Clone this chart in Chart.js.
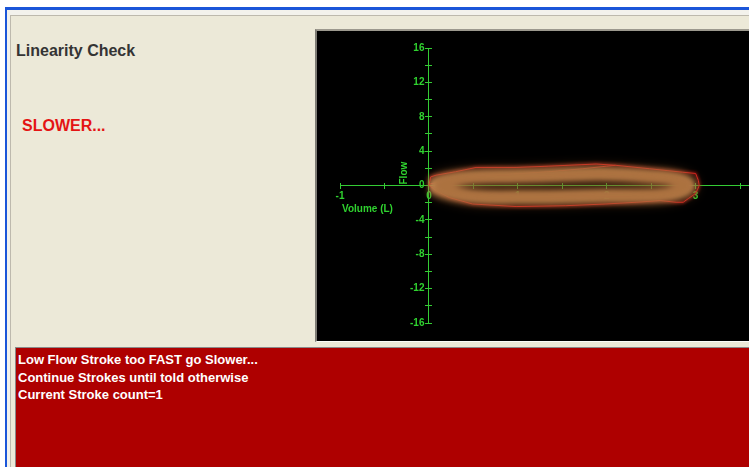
<!DOCTYPE html>
<html>
<head>
<meta charset="utf-8">
<script src="https://cdn.jsdelivr.net/npm/chart.js@4"></script>
<style>
  html, body { margin: 0; padding: 0; }
  body { width: 749px; height: 467px; overflow: hidden; background: #ffffff; position: relative;
         font-family: 'Liberation Sans', Arial, sans-serif; }
  .frame { position: absolute; left: 5px; top: 7px; right: 0; bottom: 0;
           border-top: 3px solid #1b56d9; border-left: 2px solid #1b56d9; background: #f3f2ec; }
  .panel { position: absolute; left: 10px; top: 15px; right: 0; bottom: 0;
           border-top: 1px solid #bdb9ad; border-left: 1px solid #bdb9ad; background: #ece9d8; }
  .title { position: absolute; left: 16px; top: 41px; font-size: 16px; font-weight: bold; color: #343434;
           line-height: 20px; white-space: nowrap; }
  .slower { position: absolute; left: 22px; top: 116px; font-size: 16px; font-weight: bold; color: #e41414;
            line-height: 20px; white-space: nowrap; }
  .chartbox { position: absolute; left: 315px; top: 29px; width: 434px; height: 310px;
              border-top: 2px solid #9c998e; border-left: 2px solid #7d7b74; border-bottom: 1px solid #fbfbf8;
              background: #000; }
  .chartbox canvas { display: block; position: absolute; left: 0; top: 0; }
  .msg { position: absolute; left: 15px; top: 347px; right: 0; bottom: 0;
         border-top: 1px solid #8a8a8a; border-left: 1px solid #8a8a8a; background: #ae0000;
         color: #ffffff; font-size: 13px; font-weight: bold; line-height: 17.5px; padding: 3px 0 0 2px; }
</style>
</head>
<body>
<div class="frame"></div>
<div class="panel"></div>
<div class="title">Linearity Check</div>
<div class="slower">SLOWER...</div>
<div class="chartbox"><canvas id="c" width="432" height="310"></canvas></div>
<div class="msg">Low Flow Stroke too FAST go Slower...<br>Continue Strokes until told otherwise<br>Current Stroke count=1</div>
<script>
// ---- data ----
const outerVolume = [0, 0.02, 0.08, 0.30, 0.53, 0.98, 1.35, 1.88, 2.10, 2.48, 2.85, 3.00, 3.03, 3.04, 3.02, 2.99, 2.92, 2.86, 2.78, 2.60, 2.33, 1.99, 1.54, 0.98, 0.49, 0.23, 0.08, 0.02, 0];
const outerFlow   = [0, 1.0, 1.2, 1.6, 2.1, 2.1, 2.25, 2.5, 2.35, 1.95, 1.55, 1.4, 0.6, 0, -0.5, -1.0, -1.5, -1.95, -1.95, -1.75, -1.95, -2.15, -2.35, -2.45, -2.15, -1.4, -0.6, -0.1, 0];
const innerVolume = [0, 0.02, 0.23, 0.49, 0.98, 1.35, 1.73, 2.0, 2.1];
const innerFlow   = [0, 0.2, 0.6, 1.05, 1.35, 1.6, 1.95, 2.25, 2.35];
const glowVolume  = [0.03, 0.2, 0.5, 1.0, 1.5, 2.0, 2.5, 2.8, 2.92, 2.8, 2.5, 2.0, 1.5, 1.0, 0.5, 0.2, 0.03];
const glowFlow    = [0, 0.6, 1.0, 1.1, 1.25, 1.35, 1.05, 0.7, 0, -0.8, -1.15, -1.2, -1.3, -1.35, -1.25, -0.7, 0];
const xTickLabels = ['-1', '0', '1', '2', '3'];
const yTickLabels = ['16', '12', '8', '4', '0', '-4', '-8', '-12', '-16'];
const xAxisTitle = 'Volume (L)';
const yAxisTitle = 'Flow';

const pts = (xs, ys) => xs.map((x, i) => ({ x: x, y: ys[i] }));
const GREEN = '#34cc34';
const LABEL = '#2fd22f';
const FONT = "'Liberation Sans', Arial, sans-serif";

const blurPlugin = {
  id: 'blurPlugin',
  beforeDatasetDraw(chart, args) {
    const ds = chart.data.datasets[args.index];
    if (ds.glowBlur) { chart.ctx.save(); chart.ctx.filter = 'blur(' + ds.glowBlur + 'px)'; }
  },
  afterDatasetDraw(chart, args) {
    const ds = chart.data.datasets[args.index];
    if (ds.glowBlur) { chart.ctx.restore(); }
  }
};

const titlePlugin = {
  id: 'axisTitles',
  afterDraw(chart) {
    const ctx = chart.ctx, xs = chart.scales.x, ys = chart.scales.y;
    const x0 = xs.getPixelForValue(0), y0 = ys.getPixelForValue(0), xl = xs.getPixelForValue(-1);
    ctx.save();
    ctx.fillStyle = LABEL;
    ctx.font = 'bold 10px ' + FONT;
    ctx.textAlign = 'left';
    ctx.textBaseline = 'middle';
    ctx.fillText(xAxisTitle, xl + 2, y0 + 23.5);
    ctx.translate(x0 - 25, y0 - 1);
    ctx.rotate(-Math.PI / 2);
    ctx.fillText(yAxisTitle, 0, 0);
    ctx.restore();
  }
};

const commonX = { type: 'linear', axis: 'x', min: -1, max: 3.6 };
const commonY = { type: 'linear', axis: 'y', min: -16, max: 16 };

new Chart(document.getElementById('c'), {
  type: 'scatter',
  data: {
    datasets: [
      { data: pts(glowVolume, glowFlow), showLine: true, borderColor: 'rgba(110,60,22,0.45)', borderWidth: 20,
        tension: 0.45, pointRadius: 0, glowBlur: 5 },
      { data: pts(glowVolume, glowFlow), showLine: true, borderColor: 'rgba(222,158,98,1)', borderWidth: 14,
        tension: 0.45, pointRadius: 0, glowBlur: 3 },
      { data: pts(glowVolume, glowFlow), showLine: true, borderColor: 'rgba(236,178,118,1)', borderWidth: 6,
        tension: 0.45, pointRadius: 0, glowBlur: 2 },
      { data: pts(outerVolume, outerFlow), showLine: true, borderColor: 'rgba(230,30,30,0.45)', borderWidth: 3,
        tension: 0, pointRadius: 0, glowBlur: 1.5 },
      { data: pts(outerVolume, outerFlow), showLine: true, borderColor: '#e61c1c', borderWidth: 1,
        tension: 0, pointRadius: 0 },
      { data: pts(innerVolume, innerFlow), showLine: true, borderColor: '#e61c1c', borderWidth: 1,
        tension: 0, pointRadius: 0 }
    ]
  },
  options: {
    responsive: false,
    animation: false,
    devicePixelRatio: 1,
    layout: { padding: { left: 23, right: 0, top: 17, bottom: 18 } },
    plugins: { legend: { display: false }, tooltip: { enabled: false } },
    scales: {
      x: Object.assign({}, commonX, {
        position: { y: 0 }, z: 1,
        border: { display: true, color: GREEN, width: 1 },
        grid: { display: true, drawOnChartArea: false, drawTicks: true, tickLength: 3, color: GREEN },
        ticks: { stepSize: 0.5, includeBounds: false, autoSkip: false, maxRotation: 0, padding: 2,
                 color: LABEL, font: { family: FONT, weight: 'bold', size: 10 },
                 callback: v => xTickLabels.includes(String(v)) ? String(v) : '' }
      }),
      x2: Object.assign({}, commonX, {
        position: { y: 0 }, z: 1,
        border: { display: false },
        grid: { display: true, drawOnChartArea: false, drawTicks: true, tickLength: -3, color: GREEN },
        ticks: { stepSize: 0.5, includeBounds: false, display: false }
      }),
      y: Object.assign({}, commonY, {
        position: { x: 0 }, z: 1,
        border: { display: true, color: GREEN, width: 1 },
        grid: { display: true, drawOnChartArea: false, drawTicks: true, tickLength: 3, color: GREEN },
        ticks: { stepSize: 2, includeBounds: false, display: false }
      }),
      y2: Object.assign({}, commonY, {
        position: { x: 0 }, z: 1,
        border: { display: false },
        grid: { display: true, drawOnChartArea: false, drawTicks: true, tickLength: -3, color: GREEN },
        ticks: { stepSize: 2, includeBounds: false, display: false }
      }),
      // label carrier for the flow axis, anchored just left of the y axis
      y3: Object.assign({}, commonY, {
        position: { x: -0.05 }, z: 1,
        border: { display: false },
        grid: { display: false },
        ticks: { stepSize: 2, includeBounds: false, autoSkip: false,
                 color: LABEL, font: { family: FONT, weight: 'bold', size: 10 },
                 callback: v => yTickLabels.includes(String(v)) ? String(v) : '' }
      })
    }
  },
  plugins: [blurPlugin, titlePlugin]
});
</script>
</body>
</html>
